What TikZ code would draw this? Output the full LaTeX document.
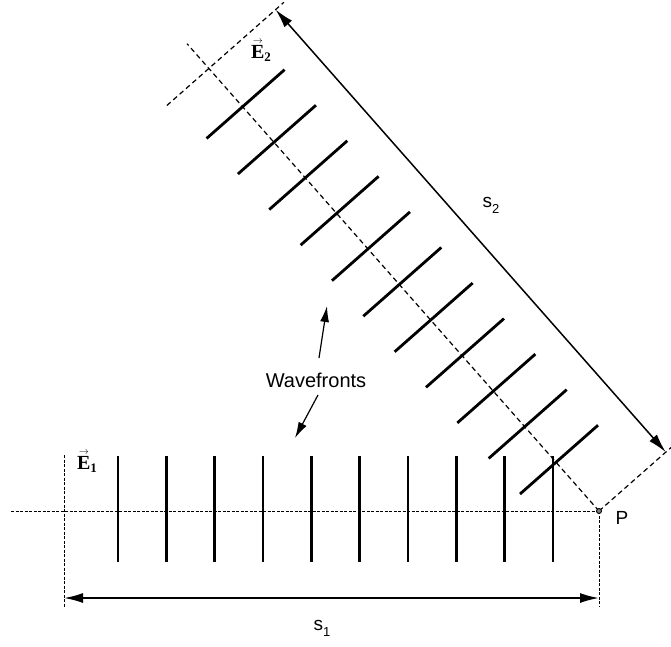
\documentclass[tikz,border=0pt]{standalone}
\usepackage{fontspec}
\setmainfont{Liberation Sans}
\newfontfamily\serifE{Liberation Serif}
\usetikzlibrary{calc,arrows.meta}
\newcommand{\vecE}[1]{\shortstack{{\fontsize{10}{10}\selectfont$\rightarrow$}\\[-1pt]E}\raisebox{-3pt}{\fontsize{13}{13}\selectfont #1}}
\begin{document}
\begin{tikzpicture}[x=1pt,y=-1pt,
  wave/.style={line width=2.8pt},
  fine/.style={line width=0.8pt, dash pattern=on 3pt off 1.5pt},
  dsh/.style={line width=1.2pt, dash pattern=on 5pt off 3.5pt},
  dimarrow/.style={{Latex[length=19pt,width=10pt]}-{Latex[length=19pt,width=10pt]}},
  ptr/.style={line width=1.2pt, -{Latex[length=16pt,width=9pt]}},
  lbl/.style={font=\fontsize{19}{22}\selectfont, inner sep=0pt},
  elbl/.style={font=\serifE\bfseries\fontsize{20}{22}\selectfont, inner sep=0pt}
]
\useasboundingbox (0,0) rectangle (671,646);
\def\ang{-131.4}
\pgfmathsetmacro\pang{\ang+90}
% ---------- horizontal wave ----------
\coordinate (P) at (599,511);
\coordinate (L) at (11,511);
\coordinate (A1t) at (64,455);
\coordinate (A1b) at (64,607);
\coordinate (Pb) at (599,607);
\draw[fine] (L) -- (P);
\draw[fine] (A1t) -- (A1b);
\draw[fine] (P) -- (Pb);
\coordinate (S1a) at (64,598);
\coordinate (S1b) at (599,598);
\draw[dimarrow, line width=1.8pt] (S1a) -- (S1b);
\foreach \k in {0,...,9} {
  \pgfmathsetmacro\xx{118+48.33*\k}
  \coordinate (h\k t) at (\xx,456);
  \coordinate (h\k b) at (\xx,562);
  \draw[wave] (h\k t) -- (h\k b);
}
% ---------- diagonal wave ----------
\coordinate (C2) at ($(P)+(\ang:590)$);
\coordinate (Dend) at ($(P)+(\ang:623)$);
\coordinate (C2a) at ($(C2)+(\pang:-56)$);
\coordinate (C2b) at ($(C2)+(\pang:100)$);
\coordinate (Pr) at ($(P)+(\pang:96)$);
\draw[dsh] (P) -- (Dend);
\draw[dsh] (C2a) -- (C2b);
\draw[dsh] (P) -- (Pr);
\coordinate (S2a) at ($(C2)+(\pang:89)$);
\coordinate (S2b) at ($(P)+(\pang:89)$);
\draw[dimarrow, line width=1.5pt] (S2a) -- (S2b);
\foreach \k in {0,...,10} {
  \pgfmathsetmacro\dd{65+47.4*\k}
  \coordinate (d\k c) at ($(P)+(\ang:\dd)+(\pang:4)$);
  \coordinate (d\k a) at ($(d\k c)+(\pang:52)$);
  \coordinate (d\k b) at ($(d\k c)+(\pang:-52)$);
  \draw[wave] (d\k a) -- (d\k b);
}
% ---------- point P ----------
\node[circle, draw, line width=0.9pt, fill=gray, minimum size=5pt, inner sep=0pt] (Pdot) at (P) {};
\node[lbl] (Plab) at (622,518) {P};
% ---------- labels ----------
\node[lbl] (s1) at (322,628) {s\raisebox{-6pt}{\fontsize{13}{13}\selectfont 1}};
\node[lbl] (s2) at (491,205) {s\raisebox{-6pt}{\fontsize{13}{13}\selectfont 2}};
\node[elbl] (E1) at (87,462) {\vecE{1}};
\node[elbl] (E2) at (261,51) {\vecE{2}};
% ---------- wavefronts label ----------
\node[font=\fontsize{20}{24}\selectfont, inner sep=0pt] (wf) at (316,380) {Wavefronts};
\coordinate (wfu) at (319,358);
\coordinate (wfd) at (318,395);
\coordinate (wtu) at (327,306);
\coordinate (wtd) at (295,438);
\draw[ptr] (wfu) -- (wtu);
\draw[ptr] (wfd) -- (wtd);
\end{tikzpicture}
\end{document}
